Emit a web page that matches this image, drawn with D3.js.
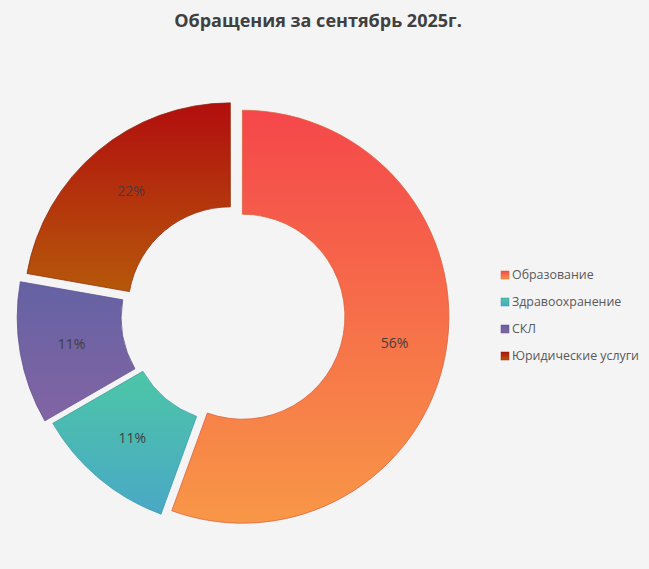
<!DOCTYPE html>
<html><head><meta charset="utf-8">
<script src="https://cdn.jsdelivr.net/npm/d3@7"></script>
<style>
html,body{margin:0;padding:0;background:#f4f4f4;}
svg{display:block;}
</style></head>
<body>
<svg id="chart" width="649" height="569"></svg>
<script>
// ---- data ----
const categories = ["Образование", "Здравоохранение", "СКЛ", "Юридические услуги"];
const values = [5, 1, 1, 2];
const title = "Обращения за сентябрь 2025г.";

// ---- styles ----
const gradTop = ["#F5474B", "#4CC6A6", "#6462A3", "#B20E0E"];
const gradBottom = ["#F89747", "#4AA8C6", "#8264A4", "#B6580A"];
const strokeCols = ["#D9603A", "#3A9AA8", "#5E4E8C", "#8E2A0A"];
const explode = [7, 6, 12, 8];

const W = 649, H = 569;
const cx = 235.5, cy = 315.5, R = 206.5, r = 102.5;

const svg = d3.select("#chart");
svg.append("rect").attr("width", W).attr("height", H).attr("fill", "#f4f4f4");

const defs = svg.append("defs");
categories.forEach((c, i) => {
  const g = defs.append("linearGradient").attr("id", "g" + i)
    .attr("x1", 0).attr("y1", 0).attr("x2", 0).attr("y2", 1);
  g.append("stop").attr("offset", "0%").attr("stop-color", gradTop[i]);
  g.append("stop").attr("offset", "100%").attr("stop-color", gradBottom[i]);
});

svg.append("text").attr("x", 318).attr("y", 27).attr("text-anchor", "middle")
  .attr("font-family", "'Open Sans', sans-serif").attr("font-weight", "bold")
  .attr("font-size", 18).attr("fill", "#404040").text(title);

const total = d3.sum(values);
const pie = d3.pie().sort(null).value(d => d)(values);
const arc = d3.arc().innerRadius(r).outerRadius(R);

const g = svg.append("g").attr("transform", `translate(${cx},${cy})`);
const slices = g.selectAll("g.slice").data(pie).enter().append("g")
  .attr("transform", (d, i) => {
    const a = (d.startAngle + d.endAngle) / 2;
    return `translate(${Math.sin(a) * explode[i]},${-Math.cos(a) * explode[i]})`;
  });
slices.append("path").attr("d", arc)
  .attr("fill", (d, i) => `url(#g${i})`)
  .attr("stroke", (d, i) => strokeCols[i]).attr("stroke-width", 0.75);
slices.append("text")
  .attr("transform", d => `translate(${arc.centroid(d)})`)
  .attr("text-anchor", "middle").attr("dy", "0.35em")
  .attr("font-family", "'Open Sans', sans-serif").attr("font-size", 14)
  .attr("fill", "#404040")
  .text(d => Math.round(d.value / total * 100) + "%");

// legend
const lg = svg.append("g");
const ly = d3.scalePoint().domain(categories).range([275, 356]);
categories.forEach((c, i) => {
  lg.append("rect").attr("x", 501).attr("y", ly(c) - 4).attr("width", 8).attr("height", 8)
    .attr("fill", `url(#g${i})`).attr("stroke", strokeCols[i]).attr("stroke-width", 0.5);
  lg.append("text").attr("x", 512).attr("y", ly(c)).attr("dy", "0.35em")
    .attr("font-family", "'Open Sans', sans-serif").attr("font-size", 12.4)
    .attr("fill", "#595959").text(c);
});
</script>
</body></html>
